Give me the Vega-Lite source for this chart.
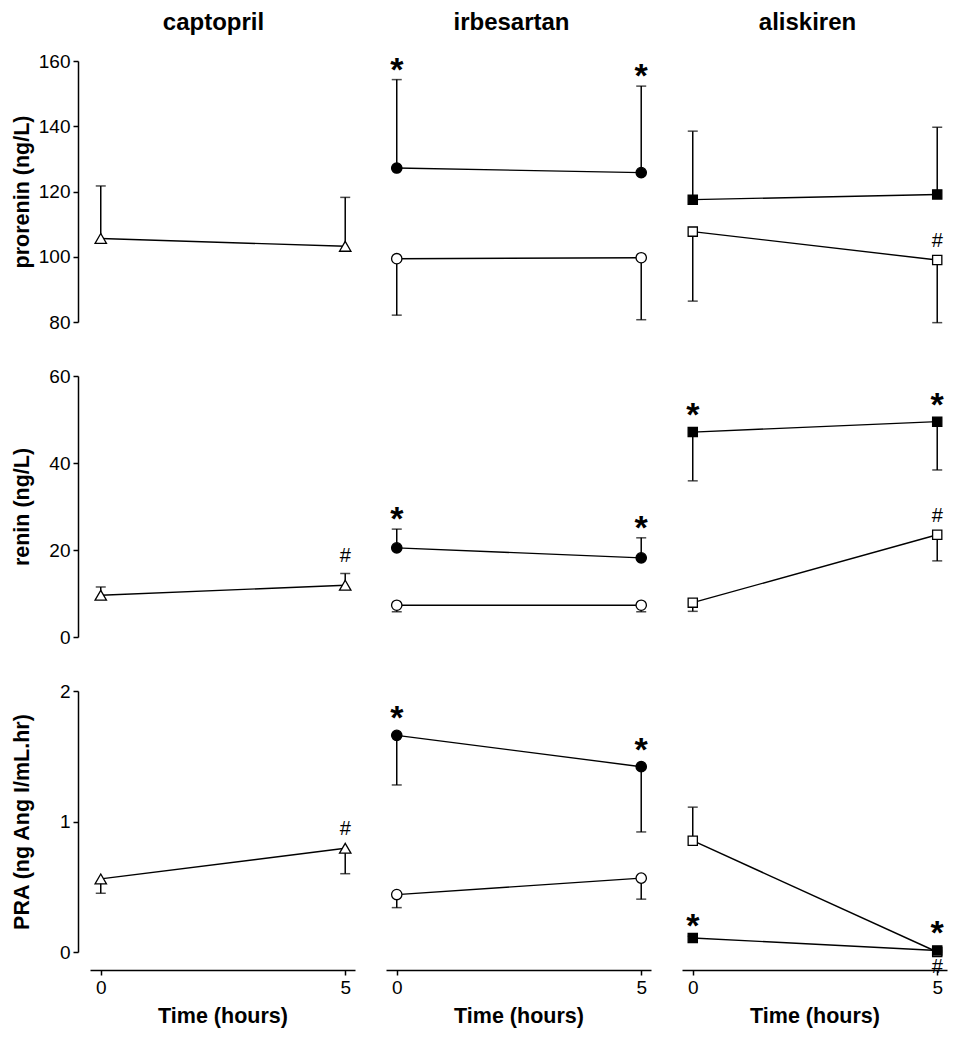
{
  "$schema": "https://vega.github.io/schema/vega-lite/v6.json",
  "padding": {"left": 10, "top": 10, "right": 5, "bottom": 5},
  "config": {
    "view": {"stroke": null},
    "font": "Liberation Sans",
    "axis": {"domainColor": "black", "tickColor": "black", "labelColor": "black", "titleColor": "black", "grid": false, "domainWidth": 1.5, "tickWidth": 1.5, "labelFont": "Liberation Sans", "titleFont": "Liberation Sans", "labelFontSize": 19, "titleFontSize": 21.5, "titleFontWeight": "bold", "tickSize": 5},
    "title": {"font": "Liberation Sans", "fontSize": 24, "fontWeight": "bold", "color": "black", "frame": "group", "baseline": "alphabetic", "offset": 18, "anchor": "middle"},
    "text": {"font": "Liberation Sans", "color": "black", "align": "center"}
  },
  "data": {"values": [
    {"measure": "prorenin", "drug": "captopril", "status": "open", "time": 0, "mean": 105.6, "err": 121.7},
    {"measure": "prorenin", "drug": "captopril", "status": "open", "time": 5, "mean": 103.2, "err": 118.2},
    {"measure": "prorenin", "drug": "irbesartan", "status": "open", "time": 0, "mean": 99.4, "err": 82.1},
    {"measure": "prorenin", "drug": "irbesartan", "status": "open", "time": 5, "mean": 99.7, "err": 80.7},
    {"measure": "prorenin", "drug": "irbesartan", "status": "filled", "time": 0, "mean": 127.2, "err": 154.3, "sig": "*", "side": "above"},
    {"measure": "prorenin", "drug": "irbesartan", "status": "filled", "time": 5, "mean": 125.8, "err": 152.3, "sig": "*", "side": "above"},
    {"measure": "prorenin", "drug": "aliskiren", "status": "open", "time": 0, "mean": 107.7, "err": 86.4},
    {"measure": "prorenin", "drug": "aliskiren", "status": "open", "time": 5, "mean": 99.0, "err": 79.8, "sig": "#", "side": "above"},
    {"measure": "prorenin", "drug": "aliskiren", "status": "filled", "time": 0, "mean": 117.5, "err": 138.5},
    {"measure": "prorenin", "drug": "aliskiren", "status": "filled", "time": 5, "mean": 119.1, "err": 139.7},
    {"measure": "renin", "drug": "captopril", "status": "open", "time": 0, "mean": 9.6, "err": 11.5},
    {"measure": "renin", "drug": "captopril", "status": "open", "time": 5, "mean": 11.9, "err": 14.6, "sig": "#", "side": "above"},
    {"measure": "renin", "drug": "irbesartan", "status": "open", "time": 0, "mean": 7.3, "err": 5.8},
    {"measure": "renin", "drug": "irbesartan", "status": "open", "time": 5, "mean": 7.3, "err": 5.8},
    {"measure": "renin", "drug": "irbesartan", "status": "filled", "time": 0, "mean": 20.5, "err": 24.8, "sig": "*", "side": "above"},
    {"measure": "renin", "drug": "irbesartan", "status": "filled", "time": 5, "mean": 18.2, "err": 22.8, "sig": "*", "side": "above"},
    {"measure": "renin", "drug": "aliskiren", "status": "open", "time": 0, "mean": 7.9, "err": 5.9},
    {"measure": "renin", "drug": "aliskiren", "status": "open", "time": 5, "mean": 23.5, "err": 17.5, "sig": "#", "side": "above"},
    {"measure": "renin", "drug": "aliskiren", "status": "filled", "time": 0, "mean": 47.1, "err": 35.9, "sig": "*", "side": "above"},
    {"measure": "renin", "drug": "aliskiren", "status": "filled", "time": 5, "mean": 49.5, "err": 38.4, "sig": "*", "side": "above"},
    {"measure": "PRA", "drug": "captopril", "status": "open", "time": 0, "mean": 0.56, "err": 0.45},
    {"measure": "PRA", "drug": "captopril", "status": "open", "time": 5, "mean": 0.795, "err": 0.6, "sig": "#", "side": "above"},
    {"measure": "PRA", "drug": "irbesartan", "status": "open", "time": 0, "mean": 0.44, "err": 0.34},
    {"measure": "PRA", "drug": "irbesartan", "status": "open", "time": 5, "mean": 0.566, "err": 0.405},
    {"measure": "PRA", "drug": "irbesartan", "status": "filled", "time": 0, "mean": 1.66, "err": 1.28, "sig": "*", "side": "above"},
    {"measure": "PRA", "drug": "irbesartan", "status": "filled", "time": 5, "mean": 1.42, "err": 0.92, "sig": "*", "side": "above"},
    {"measure": "PRA", "drug": "aliskiren", "status": "open", "time": 0, "mean": 0.853, "err": 1.11},
    {"measure": "PRA", "drug": "aliskiren", "status": "open", "time": 5, "mean": 0.0, "err": 0.0, "sig": "#", "side": "below"},
    {"measure": "PRA", "drug": "aliskiren", "status": "filled", "time": 0, "mean": 0.107, "err": 0.12, "sig": "*", "side": "above"},
    {"measure": "PRA", "drug": "aliskiren", "status": "filled", "time": 5, "mean": 0.012, "err": 0.012, "sig": "*", "side": "above"}
  ]},
  "columns": 3,
  "spacing": {"row": 35, "column": 31},
  "concat": [
    {
      "width": 265, "height": 261,
      "title": {"text": "captopril", "dx": -9, "dy": 1},
      "transform": [{"filter": "datum.measure==='prorenin' && datum.drug==='captopril'"}],
      "encoding": {
        "x": {"field": "time", "type": "quantitative", "scale": {"domain": [-0.22, 5.2], "nice": false, "zero": false}, "axis": null},
        "y": {"field": "mean", "type": "quantitative", "scale": {"domain": [80, 160], "nice": false, "zero": false}, "axis": {"values": [80, 100, 120, 140, 160], "title": "prorenin (ng/L)", "offset": 12, "titleX": -45, "labelPadding": 3}}
      },
      "layer": [
        {"mark": {"type": "rule", "color": "black", "strokeWidth": 1.5}, "encoding": {"y2": {"field": "err"}}},
        {"mark": {"type": "tick", "orient": "horizontal", "size": 10, "thickness": 1.5, "color": "black"}, "encoding": {"y": {"field": "err", "type": "quantitative"}}},
        {"mark": {"type": "line", "color": "black", "strokeWidth": 1.4}, "encoding": {"detail": {"field": "status"}}},
        {"mark": {"type": "point", "filled": true, "stroke": "black", "strokeWidth": 1.3, "opacity": 1}, "encoding": {"shape": {"field": "drug", "scale": {"domain": ["captopril", "irbesartan", "aliskiren"], "range": ["triangle-up", "circle", "square"]}, "legend": null}, "size": {"field": "drug", "type": "nominal", "scale": {"domain": ["captopril", "irbesartan", "aliskiren"], "range": [130, 85, 85]}, "legend": null}, "fill": {"field": "status", "scale": {"domain": ["filled", "open"], "range": ["black", "white"]}, "legend": null}}},
        {"transform": [{"filter": "datum.sig==='*' && datum.err>datum.mean"}], "mark": {"type": "text", "fontSize": 34, "fontWeight": "bold", "baseline": "alphabetic", "dy": 1}, "encoding": {"y": {"field": "err", "type": "quantitative"}, "text": {"field": "sig"}}},
        {"transform": [{"filter": "datum.sig==='*' && datum.err<=datum.mean"}], "mark": {"type": "text", "fontSize": 34, "fontWeight": "bold", "baseline": "alphabetic", "dy": -6}, "encoding": {"text": {"field": "sig"}}},
        {"transform": [{"filter": "datum.sig==='#' && datum.side==='above' && datum.err>datum.mean"}], "mark": {"type": "text", "fontSize": 20, "baseline": "alphabetic", "dy": -11}, "encoding": {"y": {"field": "err", "type": "quantitative"}, "text": {"field": "sig"}}},
        {"transform": [{"filter": "datum.sig==='#' && datum.side==='above' && datum.err<=datum.mean"}], "mark": {"type": "text", "fontSize": 20, "baseline": "alphabetic", "dy": -13}, "encoding": {"text": {"field": "sig"}}},
        {"transform": [{"filter": "datum.sig==='#' && datum.side==='below'"}], "mark": {"type": "text", "fontSize": 20, "baseline": "alphabetic", "dy": 21}, "encoding": {"text": {"field": "sig"}}}
      ]
    },
    {
      "width": 265, "height": 261,
      "title": {"text": "irbesartan", "dx": -7, "dy": -1},
      "transform": [{"filter": "datum.measure==='prorenin' && datum.drug==='irbesartan'"}],
      "encoding": {
        "x": {"field": "time", "type": "quantitative", "scale": {"domain": [-0.22, 5.2], "nice": false, "zero": false}, "axis": null},
        "y": {"field": "mean", "type": "quantitative", "scale": {"domain": [80, 160], "nice": false, "zero": false}, "axis": null}
      },
      "layer": [
        {"mark": {"type": "rule", "color": "black", "strokeWidth": 1.5}, "encoding": {"y2": {"field": "err"}}},
        {"mark": {"type": "tick", "orient": "horizontal", "size": 10, "thickness": 1.5, "color": "black"}, "encoding": {"y": {"field": "err", "type": "quantitative", "axis": null}}},
        {"mark": {"type": "line", "color": "black", "strokeWidth": 1.4}, "encoding": {"detail": {"field": "status"}}},
        {"mark": {"type": "point", "filled": true, "stroke": "black", "strokeWidth": 1.3, "opacity": 1}, "encoding": {"shape": {"field": "drug", "scale": {"domain": ["captopril", "irbesartan", "aliskiren"], "range": ["triangle-up", "circle", "square"]}, "legend": null}, "size": {"field": "drug", "type": "nominal", "scale": {"domain": ["captopril", "irbesartan", "aliskiren"], "range": [130, 85, 85]}, "legend": null}, "fill": {"field": "status", "scale": {"domain": ["filled", "open"], "range": ["black", "white"]}, "legend": null}}},
        {"transform": [{"filter": "datum.sig==='*' && datum.err>datum.mean"}], "mark": {"type": "text", "fontSize": 34, "fontWeight": "bold", "baseline": "alphabetic", "dy": 1}, "encoding": {"y": {"field": "err", "type": "quantitative", "axis": null}, "text": {"field": "sig"}}},
        {"transform": [{"filter": "datum.sig==='*' && datum.err<=datum.mean"}], "mark": {"type": "text", "fontSize": 34, "fontWeight": "bold", "baseline": "alphabetic", "dy": -6}, "encoding": {"text": {"field": "sig"}}},
        {"transform": [{"filter": "datum.sig==='#' && datum.side==='above' && datum.err>datum.mean"}], "mark": {"type": "text", "fontSize": 20, "baseline": "alphabetic", "dy": -11}, "encoding": {"y": {"field": "err", "type": "quantitative", "axis": null}, "text": {"field": "sig"}}},
        {"transform": [{"filter": "datum.sig==='#' && datum.side==='above' && datum.err<=datum.mean"}], "mark": {"type": "text", "fontSize": 20, "baseline": "alphabetic", "dy": -13}, "encoding": {"text": {"field": "sig"}}},
        {"transform": [{"filter": "datum.sig==='#' && datum.side==='below'"}], "mark": {"type": "text", "fontSize": 20, "baseline": "alphabetic", "dy": 21}, "encoding": {"text": {"field": "sig"}}}
      ]
    },
    {
      "width": 265, "height": 261,
      "title": {"text": "aliskiren", "dx": -7, "dy": -8},
      "transform": [{"filter": "datum.measure==='prorenin' && datum.drug==='aliskiren'"}],
      "encoding": {
        "x": {"field": "time", "type": "quantitative", "scale": {"domain": [-0.22, 5.2], "nice": false, "zero": false}, "axis": null},
        "y": {"field": "mean", "type": "quantitative", "scale": {"domain": [80, 160], "nice": false, "zero": false}, "axis": null}
      },
      "layer": [
        {"mark": {"type": "rule", "color": "black", "strokeWidth": 1.5}, "encoding": {"y2": {"field": "err"}}},
        {"mark": {"type": "tick", "orient": "horizontal", "size": 10, "thickness": 1.5, "color": "black"}, "encoding": {"y": {"field": "err", "type": "quantitative", "axis": null}}},
        {"mark": {"type": "line", "color": "black", "strokeWidth": 1.4}, "encoding": {"detail": {"field": "status"}}},
        {"mark": {"type": "point", "filled": true, "stroke": "black", "strokeWidth": 1.3, "opacity": 1}, "encoding": {"shape": {"field": "drug", "scale": {"domain": ["captopril", "irbesartan", "aliskiren"], "range": ["triangle-up", "circle", "square"]}, "legend": null}, "size": {"field": "drug", "type": "nominal", "scale": {"domain": ["captopril", "irbesartan", "aliskiren"], "range": [130, 85, 85]}, "legend": null}, "fill": {"field": "status", "scale": {"domain": ["filled", "open"], "range": ["black", "white"]}, "legend": null}}},
        {"transform": [{"filter": "datum.sig==='*' && datum.err>datum.mean"}], "mark": {"type": "text", "fontSize": 34, "fontWeight": "bold", "baseline": "alphabetic", "dy": 1}, "encoding": {"y": {"field": "err", "type": "quantitative", "axis": null}, "text": {"field": "sig"}}},
        {"transform": [{"filter": "datum.sig==='*' && datum.err<=datum.mean"}], "mark": {"type": "text", "fontSize": 34, "fontWeight": "bold", "baseline": "alphabetic", "dy": -6}, "encoding": {"text": {"field": "sig"}}},
        {"transform": [{"filter": "datum.sig==='#' && datum.side==='above' && datum.err>datum.mean"}], "mark": {"type": "text", "fontSize": 20, "baseline": "alphabetic", "dy": -11}, "encoding": {"y": {"field": "err", "type": "quantitative", "axis": null}, "text": {"field": "sig"}}},
        {"transform": [{"filter": "datum.sig==='#' && datum.side==='above' && datum.err<=datum.mean"}], "mark": {"type": "text", "fontSize": 20, "baseline": "alphabetic", "dy": -13}, "encoding": {"text": {"field": "sig"}}},
        {"transform": [{"filter": "datum.sig==='#' && datum.side==='below'"}], "mark": {"type": "text", "fontSize": 20, "baseline": "alphabetic", "dy": 21}, "encoding": {"text": {"field": "sig"}}}
      ]
    },
    {
      "width": 265, "height": 261,
      "transform": [{"filter": "datum.measure==='renin' && datum.drug==='captopril'"}],
      "encoding": {
        "x": {"field": "time", "type": "quantitative", "scale": {"domain": [-0.22, 5.2], "nice": false, "zero": false}, "axis": null},
        "y": {"field": "mean", "type": "quantitative", "scale": {"domain": [0, 60], "nice": false, "zero": false}, "axis": {"values": [0, 20, 40, 60], "title": "renin (ng/L)", "offset": 12, "titleX": -45, "labelPadding": 3}}
      },
      "layer": [
        {"mark": {"type": "rule", "color": "black", "strokeWidth": 1.5}, "encoding": {"y2": {"field": "err"}}},
        {"mark": {"type": "tick", "orient": "horizontal", "size": 10, "thickness": 1.5, "color": "black"}, "encoding": {"y": {"field": "err", "type": "quantitative"}}},
        {"mark": {"type": "line", "color": "black", "strokeWidth": 1.4}, "encoding": {"detail": {"field": "status"}}},
        {"mark": {"type": "point", "filled": true, "stroke": "black", "strokeWidth": 1.3, "opacity": 1}, "encoding": {"shape": {"field": "drug", "scale": {"domain": ["captopril", "irbesartan", "aliskiren"], "range": ["triangle-up", "circle", "square"]}, "legend": null}, "size": {"field": "drug", "type": "nominal", "scale": {"domain": ["captopril", "irbesartan", "aliskiren"], "range": [130, 85, 85]}, "legend": null}, "fill": {"field": "status", "scale": {"domain": ["filled", "open"], "range": ["black", "white"]}, "legend": null}}},
        {"transform": [{"filter": "datum.sig==='*' && datum.err>datum.mean"}], "mark": {"type": "text", "fontSize": 34, "fontWeight": "bold", "baseline": "alphabetic", "dy": 1}, "encoding": {"y": {"field": "err", "type": "quantitative"}, "text": {"field": "sig"}}},
        {"transform": [{"filter": "datum.sig==='*' && datum.err<=datum.mean"}], "mark": {"type": "text", "fontSize": 34, "fontWeight": "bold", "baseline": "alphabetic", "dy": -6}, "encoding": {"text": {"field": "sig"}}},
        {"transform": [{"filter": "datum.sig==='#' && datum.side==='above' && datum.err>datum.mean"}], "mark": {"type": "text", "fontSize": 20, "baseline": "alphabetic", "dy": -11}, "encoding": {"y": {"field": "err", "type": "quantitative"}, "text": {"field": "sig"}}},
        {"transform": [{"filter": "datum.sig==='#' && datum.side==='above' && datum.err<=datum.mean"}], "mark": {"type": "text", "fontSize": 20, "baseline": "alphabetic", "dy": -13}, "encoding": {"text": {"field": "sig"}}},
        {"transform": [{"filter": "datum.sig==='#' && datum.side==='below'"}], "mark": {"type": "text", "fontSize": 20, "baseline": "alphabetic", "dy": 21}, "encoding": {"text": {"field": "sig"}}}
      ]
    },
    {
      "width": 265, "height": 261,
      "transform": [{"filter": "datum.measure==='renin' && datum.drug==='irbesartan'"}],
      "encoding": {
        "x": {"field": "time", "type": "quantitative", "scale": {"domain": [-0.22, 5.2], "nice": false, "zero": false}, "axis": null},
        "y": {"field": "mean", "type": "quantitative", "scale": {"domain": [0, 60], "nice": false, "zero": false}, "axis": null}
      },
      "layer": [
        {"mark": {"type": "rule", "color": "black", "strokeWidth": 1.5}, "encoding": {"y2": {"field": "err"}}},
        {"mark": {"type": "tick", "orient": "horizontal", "size": 10, "thickness": 1.5, "color": "black"}, "encoding": {"y": {"field": "err", "type": "quantitative", "axis": null}}},
        {"mark": {"type": "line", "color": "black", "strokeWidth": 1.4}, "encoding": {"detail": {"field": "status"}}},
        {"mark": {"type": "point", "filled": true, "stroke": "black", "strokeWidth": 1.3, "opacity": 1}, "encoding": {"shape": {"field": "drug", "scale": {"domain": ["captopril", "irbesartan", "aliskiren"], "range": ["triangle-up", "circle", "square"]}, "legend": null}, "size": {"field": "drug", "type": "nominal", "scale": {"domain": ["captopril", "irbesartan", "aliskiren"], "range": [130, 85, 85]}, "legend": null}, "fill": {"field": "status", "scale": {"domain": ["filled", "open"], "range": ["black", "white"]}, "legend": null}}},
        {"transform": [{"filter": "datum.sig==='*' && datum.err>datum.mean"}], "mark": {"type": "text", "fontSize": 34, "fontWeight": "bold", "baseline": "alphabetic", "dy": 1}, "encoding": {"y": {"field": "err", "type": "quantitative", "axis": null}, "text": {"field": "sig"}}},
        {"transform": [{"filter": "datum.sig==='*' && datum.err<=datum.mean"}], "mark": {"type": "text", "fontSize": 34, "fontWeight": "bold", "baseline": "alphabetic", "dy": -6}, "encoding": {"text": {"field": "sig"}}},
        {"transform": [{"filter": "datum.sig==='#' && datum.side==='above' && datum.err>datum.mean"}], "mark": {"type": "text", "fontSize": 20, "baseline": "alphabetic", "dy": -11}, "encoding": {"y": {"field": "err", "type": "quantitative", "axis": null}, "text": {"field": "sig"}}},
        {"transform": [{"filter": "datum.sig==='#' && datum.side==='above' && datum.err<=datum.mean"}], "mark": {"type": "text", "fontSize": 20, "baseline": "alphabetic", "dy": -13}, "encoding": {"text": {"field": "sig"}}},
        {"transform": [{"filter": "datum.sig==='#' && datum.side==='below'"}], "mark": {"type": "text", "fontSize": 20, "baseline": "alphabetic", "dy": 21}, "encoding": {"text": {"field": "sig"}}}
      ]
    },
    {
      "width": 265, "height": 261,
      "transform": [{"filter": "datum.measure==='renin' && datum.drug==='aliskiren'"}],
      "encoding": {
        "x": {"field": "time", "type": "quantitative", "scale": {"domain": [-0.22, 5.2], "nice": false, "zero": false}, "axis": null},
        "y": {"field": "mean", "type": "quantitative", "scale": {"domain": [0, 60], "nice": false, "zero": false}, "axis": null}
      },
      "layer": [
        {"mark": {"type": "rule", "color": "black", "strokeWidth": 1.5}, "encoding": {"y2": {"field": "err"}}},
        {"mark": {"type": "tick", "orient": "horizontal", "size": 10, "thickness": 1.5, "color": "black"}, "encoding": {"y": {"field": "err", "type": "quantitative", "axis": null}}},
        {"mark": {"type": "line", "color": "black", "strokeWidth": 1.4}, "encoding": {"detail": {"field": "status"}}},
        {"mark": {"type": "point", "filled": true, "stroke": "black", "strokeWidth": 1.3, "opacity": 1}, "encoding": {"shape": {"field": "drug", "scale": {"domain": ["captopril", "irbesartan", "aliskiren"], "range": ["triangle-up", "circle", "square"]}, "legend": null}, "size": {"field": "drug", "type": "nominal", "scale": {"domain": ["captopril", "irbesartan", "aliskiren"], "range": [130, 85, 85]}, "legend": null}, "fill": {"field": "status", "scale": {"domain": ["filled", "open"], "range": ["black", "white"]}, "legend": null}}},
        {"transform": [{"filter": "datum.sig==='*' && datum.err>datum.mean"}], "mark": {"type": "text", "fontSize": 34, "fontWeight": "bold", "baseline": "alphabetic", "dy": 1}, "encoding": {"y": {"field": "err", "type": "quantitative", "axis": null}, "text": {"field": "sig"}}},
        {"transform": [{"filter": "datum.sig==='*' && datum.err<=datum.mean"}], "mark": {"type": "text", "fontSize": 34, "fontWeight": "bold", "baseline": "alphabetic", "dy": -6}, "encoding": {"text": {"field": "sig"}}},
        {"transform": [{"filter": "datum.sig==='#' && datum.side==='above' && datum.err>datum.mean"}], "mark": {"type": "text", "fontSize": 20, "baseline": "alphabetic", "dy": -11}, "encoding": {"y": {"field": "err", "type": "quantitative", "axis": null}, "text": {"field": "sig"}}},
        {"transform": [{"filter": "datum.sig==='#' && datum.side==='above' && datum.err<=datum.mean"}], "mark": {"type": "text", "fontSize": 20, "baseline": "alphabetic", "dy": -13}, "encoding": {"text": {"field": "sig"}}},
        {"transform": [{"filter": "datum.sig==='#' && datum.side==='below'"}], "mark": {"type": "text", "fontSize": 20, "baseline": "alphabetic", "dy": 21}, "encoding": {"text": {"field": "sig"}}}
      ]
    },
    {
      "width": 265, "height": 261,
      "transform": [{"filter": "datum.measure==='PRA' && datum.drug==='captopril'"}],
      "encoding": {
        "x": {"field": "time", "type": "quantitative", "scale": {"domain": [-0.22, 5.2], "nice": false, "zero": false}, "axis": {"values": [0, 5], "title": "Time (hours)", "offset": 18, "labelPadding": 3, "titlePadding": 8}},
        "y": {"field": "mean", "type": "quantitative", "scale": {"domain": [0, 2], "nice": false, "zero": false}, "axis": {"values": [0, 1, 2], "labelExpr": "format(datum.value, '~g')", "title": "PRA (ng Ang I/mL.hr)", "offset": 12, "titleX": -45, "labelPadding": 3}}
      },
      "layer": [
        {"mark": {"type": "rule", "color": "black", "strokeWidth": 1.5}, "encoding": {"y2": {"field": "err"}}},
        {"mark": {"type": "tick", "orient": "horizontal", "size": 10, "thickness": 1.5, "color": "black"}, "encoding": {"y": {"field": "err", "type": "quantitative"}}},
        {"mark": {"type": "line", "color": "black", "strokeWidth": 1.4}, "encoding": {"detail": {"field": "status"}}},
        {"mark": {"type": "point", "filled": true, "stroke": "black", "strokeWidth": 1.3, "opacity": 1}, "encoding": {"shape": {"field": "drug", "scale": {"domain": ["captopril", "irbesartan", "aliskiren"], "range": ["triangle-up", "circle", "square"]}, "legend": null}, "size": {"field": "drug", "type": "nominal", "scale": {"domain": ["captopril", "irbesartan", "aliskiren"], "range": [130, 85, 85]}, "legend": null}, "fill": {"field": "status", "scale": {"domain": ["filled", "open"], "range": ["black", "white"]}, "legend": null}}},
        {"transform": [{"filter": "datum.sig==='*' && datum.err>datum.mean"}], "mark": {"type": "text", "fontSize": 34, "fontWeight": "bold", "baseline": "alphabetic", "dy": 1}, "encoding": {"y": {"field": "err", "type": "quantitative"}, "text": {"field": "sig"}}},
        {"transform": [{"filter": "datum.sig==='*' && datum.err<=datum.mean"}], "mark": {"type": "text", "fontSize": 34, "fontWeight": "bold", "baseline": "alphabetic", "dy": -6}, "encoding": {"text": {"field": "sig"}}},
        {"transform": [{"filter": "datum.sig==='#' && datum.side==='above' && datum.err>datum.mean"}], "mark": {"type": "text", "fontSize": 20, "baseline": "alphabetic", "dy": -11}, "encoding": {"y": {"field": "err", "type": "quantitative"}, "text": {"field": "sig"}}},
        {"transform": [{"filter": "datum.sig==='#' && datum.side==='above' && datum.err<=datum.mean"}], "mark": {"type": "text", "fontSize": 20, "baseline": "alphabetic", "dy": -13}, "encoding": {"text": {"field": "sig"}}},
        {"transform": [{"filter": "datum.sig==='#' && datum.side==='below'"}], "mark": {"type": "text", "fontSize": 20, "baseline": "alphabetic", "dy": 21}, "encoding": {"text": {"field": "sig"}}}
      ]
    },
    {
      "width": 265, "height": 261,
      "transform": [{"filter": "datum.measure==='PRA' && datum.drug==='irbesartan'"}],
      "encoding": {
        "x": {"field": "time", "type": "quantitative", "scale": {"domain": [-0.22, 5.2], "nice": false, "zero": false}, "axis": {"values": [0, 5], "title": "Time (hours)", "offset": 18, "labelPadding": 3, "titlePadding": 8}},
        "y": {"field": "mean", "type": "quantitative", "scale": {"domain": [0, 2], "nice": false, "zero": false}, "axis": null}
      },
      "layer": [
        {"mark": {"type": "rule", "color": "black", "strokeWidth": 1.5}, "encoding": {"y2": {"field": "err"}}},
        {"mark": {"type": "tick", "orient": "horizontal", "size": 10, "thickness": 1.5, "color": "black"}, "encoding": {"y": {"field": "err", "type": "quantitative", "axis": null}}},
        {"mark": {"type": "line", "color": "black", "strokeWidth": 1.4}, "encoding": {"detail": {"field": "status"}}},
        {"mark": {"type": "point", "filled": true, "stroke": "black", "strokeWidth": 1.3, "opacity": 1}, "encoding": {"shape": {"field": "drug", "scale": {"domain": ["captopril", "irbesartan", "aliskiren"], "range": ["triangle-up", "circle", "square"]}, "legend": null}, "size": {"field": "drug", "type": "nominal", "scale": {"domain": ["captopril", "irbesartan", "aliskiren"], "range": [130, 85, 85]}, "legend": null}, "fill": {"field": "status", "scale": {"domain": ["filled", "open"], "range": ["black", "white"]}, "legend": null}}},
        {"transform": [{"filter": "datum.sig==='*' && datum.err>datum.mean"}], "mark": {"type": "text", "fontSize": 34, "fontWeight": "bold", "baseline": "alphabetic", "dy": 1}, "encoding": {"y": {"field": "err", "type": "quantitative", "axis": null}, "text": {"field": "sig"}}},
        {"transform": [{"filter": "datum.sig==='*' && datum.err<=datum.mean"}], "mark": {"type": "text", "fontSize": 34, "fontWeight": "bold", "baseline": "alphabetic", "dy": -6}, "encoding": {"text": {"field": "sig"}}},
        {"transform": [{"filter": "datum.sig==='#' && datum.side==='above' && datum.err>datum.mean"}], "mark": {"type": "text", "fontSize": 20, "baseline": "alphabetic", "dy": -11}, "encoding": {"y": {"field": "err", "type": "quantitative", "axis": null}, "text": {"field": "sig"}}},
        {"transform": [{"filter": "datum.sig==='#' && datum.side==='above' && datum.err<=datum.mean"}], "mark": {"type": "text", "fontSize": 20, "baseline": "alphabetic", "dy": -13}, "encoding": {"text": {"field": "sig"}}},
        {"transform": [{"filter": "datum.sig==='#' && datum.side==='below'"}], "mark": {"type": "text", "fontSize": 20, "baseline": "alphabetic", "dy": 21}, "encoding": {"text": {"field": "sig"}}}
      ]
    },
    {
      "width": 265, "height": 261,
      "transform": [{"filter": "datum.measure==='PRA' && datum.drug==='aliskiren'"}],
      "encoding": {
        "x": {"field": "time", "type": "quantitative", "scale": {"domain": [-0.22, 5.2], "nice": false, "zero": false}, "axis": {"values": [0, 5], "title": "Time (hours)", "offset": 18, "labelPadding": 3, "titlePadding": 8}},
        "y": {"field": "mean", "type": "quantitative", "scale": {"domain": [0, 2], "nice": false, "zero": false}, "axis": null}
      },
      "layer": [
        {"mark": {"type": "rule", "color": "black", "strokeWidth": 1.5}, "encoding": {"y2": {"field": "err"}}},
        {"mark": {"type": "tick", "orient": "horizontal", "size": 10, "thickness": 1.5, "color": "black"}, "encoding": {"y": {"field": "err", "type": "quantitative", "axis": null}}},
        {"mark": {"type": "line", "color": "black", "strokeWidth": 1.4}, "encoding": {"detail": {"field": "status"}}},
        {"mark": {"type": "point", "filled": true, "stroke": "black", "strokeWidth": 1.3, "opacity": 1}, "encoding": {"shape": {"field": "drug", "scale": {"domain": ["captopril", "irbesartan", "aliskiren"], "range": ["triangle-up", "circle", "square"]}, "legend": null}, "size": {"field": "drug", "type": "nominal", "scale": {"domain": ["captopril", "irbesartan", "aliskiren"], "range": [130, 85, 85]}, "legend": null}, "fill": {"field": "status", "scale": {"domain": ["filled", "open"], "range": ["black", "white"]}, "legend": null}}},
        {"transform": [{"filter": "datum.sig==='*' && datum.err>datum.mean"}], "mark": {"type": "text", "fontSize": 34, "fontWeight": "bold", "baseline": "alphabetic", "dy": 1}, "encoding": {"y": {"field": "err", "type": "quantitative", "axis": null}, "text": {"field": "sig"}}},
        {"transform": [{"filter": "datum.sig==='*' && datum.err<=datum.mean"}], "mark": {"type": "text", "fontSize": 34, "fontWeight": "bold", "baseline": "alphabetic", "dy": -6}, "encoding": {"text": {"field": "sig"}}},
        {"transform": [{"filter": "datum.sig==='#' && datum.side==='above' && datum.err>datum.mean"}], "mark": {"type": "text", "fontSize": 20, "baseline": "alphabetic", "dy": -11}, "encoding": {"y": {"field": "err", "type": "quantitative", "axis": null}, "text": {"field": "sig"}}},
        {"transform": [{"filter": "datum.sig==='#' && datum.side==='above' && datum.err<=datum.mean"}], "mark": {"type": "text", "fontSize": 20, "baseline": "alphabetic", "dy": -13}, "encoding": {"text": {"field": "sig"}}},
        {"transform": [{"filter": "datum.sig==='#' && datum.side==='below'"}], "mark": {"type": "text", "fontSize": 20, "baseline": "alphabetic", "dy": 21}, "encoding": {"text": {"field": "sig"}}}
      ]
    }
  ]
}
